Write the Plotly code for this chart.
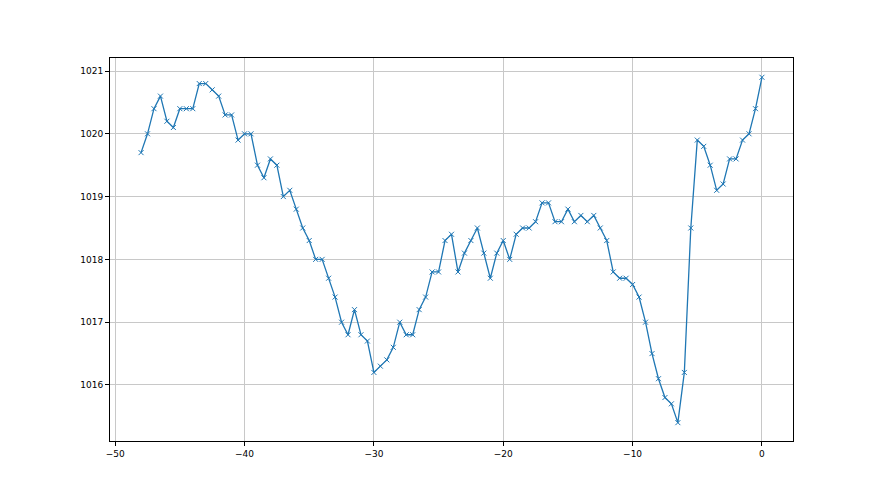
import plotly.graph_objects as go

x_vals = [-48.0, -47.5, -47.0, -46.5, -46.0, -45.5, -45.0, -44.5, -44.0, -43.5,
          -43.0, -42.5, -42.0, -41.5, -41.0, -40.5, -40.0, -39.5, -39.0, -38.5,
          -38.0, -37.5, -37.0, -36.5, -36.0, -35.5, -35.0, -34.5, -34.0, -33.5,
          -33.0, -32.5, -32.0, -31.5, -31.0, -30.5, -30.0, -29.5, -29.0, -28.5,
          -28.0, -27.5, -27.0, -26.5, -26.0, -25.5, -25.0, -24.5, -24.0, -23.5,
          -23.0, -22.5, -22.0, -21.5, -21.0, -20.5, -20.0, -19.5, -19.0, -18.5,
          -18.0, -17.5, -17.0, -16.5, -16.0, -15.5, -15.0, -14.5, -14.0, -13.5,
          -13.0, -12.5, -12.0, -11.5, -11.0, -10.5, -10.0, -9.5, -9.0, -8.5,
          -8.0, -7.5, -7.0, -6.5, -6.0, -5.5, -5.0, -4.5, -4.0, -3.5,
          -3.0, -2.5, -2.0, -1.5, -1.0, -0.5, 0.0]

pressure = [1019.7, 1020.0, 1020.4, 1020.6, 1020.2, 1020.1, 1020.4, 1020.4, 1020.4, 1020.8,
            1020.8, 1020.7, 1020.6, 1020.3, 1020.3, 1019.9, 1020.0, 1020.0, 1019.5, 1019.3,
            1019.6, 1019.5, 1019.0, 1019.1, 1018.8, 1018.5, 1018.3, 1018.0, 1018.0, 1017.7,
            1017.4, 1017.0, 1016.8, 1017.2, 1016.8, 1016.7, 1016.2, 1016.3, 1016.4, 1016.6,
            1017.0, 1016.8, 1016.8, 1017.2, 1017.4, 1017.8, 1017.8, 1018.3, 1018.4, 1017.8,
            1018.1, 1018.3, 1018.5, 1018.1, 1017.7, 1018.1, 1018.3, 1018.0, 1018.4, 1018.5,
            1018.5, 1018.6, 1018.9, 1018.9, 1018.6, 1018.6, 1018.8, 1018.6, 1018.7, 1018.6,
            1018.7, 1018.5, 1018.3, 1017.8, 1017.7, 1017.7, 1017.6, 1017.4, 1017.0, 1016.5,
            1016.1, 1015.8, 1015.7, 1015.4, 1016.2, 1018.5, 1019.9, 1019.8, 1019.5, 1019.1,
            1019.2, 1019.6, 1019.6, 1019.9, 1020.0, 1020.4, 1020.9]

x_ticks = [-50, -40, -30, -20, -10, 0]
y_ticks = [1016, 1017, 1018, 1019, 1020, 1021]

fig = go.Figure()
fig.add_trace(go.Scatter(
    x=x_vals, y=pressure, mode="lines+markers",
    line=dict(color="#1f77b4", width=1.3),
    marker=dict(symbol="x-thin", size=5, line=dict(color="#1f77b4", width=1)),
    showlegend=False,
))

axis_common = dict(
    showline=True, linecolor="black", linewidth=1, mirror=True,
    ticks="outside", ticklen=4, tickcolor="black", tickwidth=1,
    showgrid=True, gridcolor="#c8c8c8", gridwidth=0.8,
    zeroline=False, tickfont=dict(family="DejaVu Sans", size=9, color="black"),
)

fig.update_layout(
    width=880, height=495,
    margin=dict(l=102, r=95, t=50, b=62),
    paper_bgcolor="white", plot_bgcolor="white",
    xaxis=dict(range=[-50.4, 2.4], tickvals=x_ticks, **axis_common),
    yaxis=dict(range=[1015.108, 1021.207], tickvals=y_ticks, **axis_common),
)

fig.write_html("out.html")
